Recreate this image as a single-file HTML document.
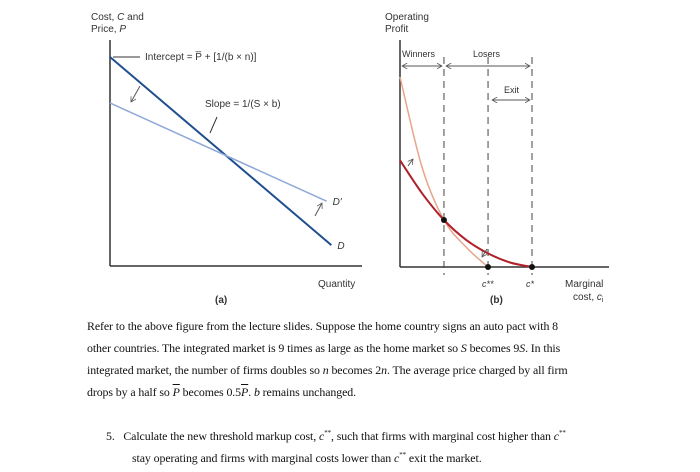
<!DOCTYPE html>
<html><head><meta charset="utf-8"><style>
body{margin:0;width:700px;height:472px;background:#fff;overflow:hidden;position:relative;font-family:"Liberation Sans",sans-serif}
svg{position:absolute;left:0;top:0}
.p{position:absolute;left:87px;font-family:"Liberation Serif",serif;font-size:11.9px;color:#111;white-space:nowrap;letter-spacing:-0.1px}
</style></head><body>
<svg id="chart" width="700" height="310">
<defs><marker id="ah" viewBox="0 0 8 8" refX="7" refY="4" markerWidth="6" markerHeight="6" orient="auto-start-reverse"><path d="M0,0 L7,4 L0,8" fill="none" stroke="#555" stroke-width="1"/></marker></defs>
</svg>
<div class="p" style="top:319px">Refer to the above figure from the lecture slides. Suppose the home country signs an auto pact with 8</div>
<div class="p" style="top:341px">other countries. The integrated market is 9 times as large as the home market so <i>S</i> becomes 9<i>S</i>. In this</div>
<div class="p" style="top:363px">integrated market, the number of firms doubles so <i>n</i> becomes 2<i>n</i>. The average price charged by all firm</div>
<div class="p" style="top:385px">drops by a half so <i style="text-decoration:overline">P</i> becomes 0.5<i style="text-decoration:overline">P</i>. <i>b</i> remains unchanged.</div>
<div class="p" style="top:429px;left:106px">5.&nbsp;&nbsp; Calculate the new threshold markup cost, <i>c</i><sup style="font-size:7px">**</sup>, such that firms with marginal cost higher than <i>c</i><sup style="font-size:7px">**</sup></div>
<div class="p" style="top:451px;left:132px">stay operating and firms with marginal costs lower than <i>c</i><sup style="font-size:7px">**</sup> exit the market.</div>
<script>
// Panel (a): demand lines, value = price at quantity 0 and at end quantity (normalized)
const demandNames=["D","D'"];
const demandStart=[1.0,0.78];
const demandEnd=[0.1,0.31];
const demandEndQ=[0.93,0.91];
// Panel (b): profit curves on a cost grid (normalized, c* = 1)
const costGrid=[0,0.167,0.333,0.5,0.667,0.833,1.0];
const profitOld=[0.47,0.325,0.207,0.12,0.06,0.02,0];
const profitNew=[0.837,0.44,0.207,0.088,0,0,0];
const cutoffs=[0.333,0.667,1.0];
const cutoffLabels=["","c**","c*"];
const NS="http://www.w3.org/2000/svg";
const svg=document.getElementById('chart');
function mk(t,a,name){const e=document.createElementNS(NS,t);for(const k in a)e.setAttribute(k,a[k]);


svg.appendChild(e);return e;}
function tx(x,y,s,name,extra){const e=mk('text',Object.assign({x:x,y:y,'font-size':10,fill:'#333','font-family':'Liberation Sans, sans-serif'},extra||{}),name);e.textContent=s;return e;}
const ax={x0:110,x1:362,y0:266,yTop:40};
const qx=q=>ax.x0+q*(348-ax.x0);
const py=p=>ax.y0-p*(ax.y0-57);
mk('line',{x1:ax.x0,y1:ax.yTop,x2:ax.x0,y2:ax.y0,stroke:'#333','stroke-width':1.5},'y-axis-a');
mk('line',{x1:ax.x0,y1:ax.y0,x2:ax.x1,y2:ax.y0,stroke:'#333','stroke-width':1.5},'x-axis-a');
const cols=['#1f4f8f','#8fa8d8'];
demandNames.forEach((n,i)=>{
 mk('line',{x1:qx(0),y1:py(demandStart[i]),x2:qx(demandEndQ[i]),y2:py(demandEnd[i]),stroke:cols[i],'stroke-width':i?1.5:2},'demand-line-'+(i?'d-prime':'d'));
 tx(qx(demandEndQ[i])+6,py(demandEnd[i])+4,n,'demand-label-'+(i?'d-prime':'d'),{'font-style':'italic'});
});
tx(91,20,'','y-axis-title-a-line1').innerHTML='Cost, <tspan font-style="italic">C</tspan> and';
tx(91,32,'','y-axis-title-a-line2').innerHTML='Price, <tspan font-style="italic">P</tspan>';
mk('line',{x1:113,y1:57,x2:140,y2:57,stroke:'#333'},'intercept-leader');
tx(145,60,'Intercept = P̅ + [1/(b × n)]','intercept-label');
tx(205,107,'Slope = 1/(S × b)','slope-label');
mk('line',{x1:217,y1:117,x2:210,y2:133,stroke:'#333'},'slope-leader');
mk('line',{x1:140,y1:86,x2:131,y2:102,stroke:'#555','marker-end':'url(#ah)'},'rotate-arrow-top');
mk('line',{x1:315,y1:216,x2:322,y2:203,stroke:'#555','marker-end':'url(#ah)'},'rotate-arrow-bottom');
tx(318,287,'Quantity','x-axis-title-a');
tx(215,303,'(a)','panel-a-label',{'font-weight':'bold'});
const bx={x0:400,x1:609,y0:267,yTop:40};
const cx=c=>bx.x0+c*(532-bx.x0);
const vy=v=>bx.y0-v*(bx.y0-40);
mk('line',{x1:bx.x0,y1:bx.yTop,x2:bx.x0,y2:bx.y0,stroke:'#333','stroke-width':1.5},'y-axis-b');
mk('line',{x1:bx.x0,y1:bx.y0,x2:bx.x1,y2:bx.y0,stroke:'#333','stroke-width':1.5},'x-axis-b');
cutoffs.forEach((c,i)=>{mk('line',{x1:cx(c),y1:57,x2:cx(c),y2:bx.y0+8,stroke:'#444','stroke-dasharray':'7,5'},'cutoff-dashed-'+i);});
function pathOf(arr){
 const pts=[];for(let i=0;i<arr.length;i++){pts.push([cx(costGrid[i]),vy(arr[i])]);if(arr[i]<=0)break;}
 let d='M'+pts[0][0].toFixed(1)+','+pts[0][1].toFixed(1);
 for(let i=0;i<pts.length-1;i++){const p0=pts[i-1]||pts[i],p1=pts[i],p2=pts[i+1],p3=pts[i+2]||p2;
  const c1=[p1[0]+(p2[0]-p0[0])/6,p1[1]+(p2[1]-p0[1])/6],c2=[p2[0]-(p3[0]-p1[0])/6,p2[1]-(p3[1]-p1[1])/6];
  d+='C'+c1.map(v=>v.toFixed(1)).join(',')+' '+c2.map(v=>v.toFixed(1)).join(',')+' '+p2.map(v=>v.toFixed(1)).join(',');}
 return d;}
mk('path',{d:pathOf(profitNew),fill:'none',stroke:'#e8a58a','stroke-width':1.5},'profit-curve-new');
mk('path',{d:pathOf(profitOld),fill:'none',stroke:'#b0202a','stroke-width':2},'profit-curve-old');
mk('circle',{cx:cx(costGrid[2]),cy:vy(profitOld[2]),r:3,fill:'#111'},'intersection-dot');
[1,2].forEach(i=>{mk('circle',{cx:cx(cutoffs[i]),cy:bx.y0,r:3,fill:'#111'},'cutoff-dot-'+i);tx(cx(cutoffs[i])-6,287,cutoffLabels[i],'cutoff-label-'+i,{'font-style':'italic','font-size':9});});
mk('line',{x1:402,y1:66,x2:442,y2:66,stroke:'#555','marker-start':'url(#ah)','marker-end':'url(#ah)'},'winners-arrow');
mk('line',{x1:446,y1:66,x2:530,y2:66,stroke:'#555','marker-start':'url(#ah)','marker-end':'url(#ah)'},'losers-arrow');
mk('line',{x1:492,y1:100,x2:530,y2:100,stroke:'#555','marker-start':'url(#ah)','marker-end':'url(#ah)'},'exit-arrow');
tx(402,57,'Winners','winners-label',{'font-size':9});
tx(473,57,'Losers','losers-label',{'font-size':9});
tx(504,93,'Exit','exit-label',{'font-size':9});
tx(385,20,'Operating','y-axis-title-b-line1');tx(385,32,'Profit','y-axis-title-b-line2');
mk('line',{x1:408,y1:166,x2:413,y2:159,stroke:'#555','marker-end':'url(#ah)'},'shift-arrow-top');
mk('line',{x1:487,y1:249,x2:482,y2:257,stroke:'#555','marker-end':'url(#ah)'},'shift-arrow-bottom');
tx(565,287,'Marginal','x-axis-title-b-line1');tx(573,300,'','x-axis-title-b-line2').innerHTML='cost, <tspan font-style="italic">c</tspan><tspan font-size="7" dy="2">i</tspan>';
tx(490,303,'(b)','panel-b-label',{'font-weight':'bold'});
</script>
</body></html>
